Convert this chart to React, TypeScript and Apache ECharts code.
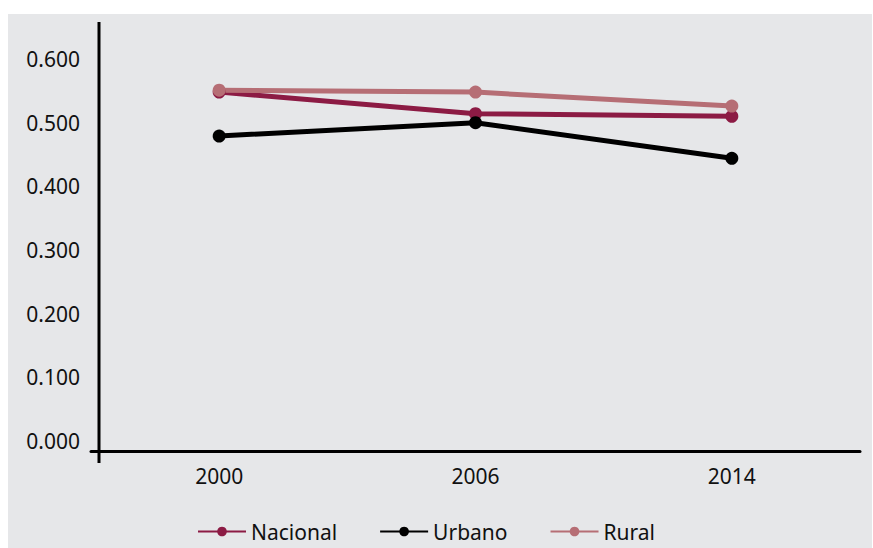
import React, { useEffect, useRef } from "react";
import * as echarts from "echarts";

const years = ["2000", "2006", "2014"];
const nacional = [0.548, 0.514, 0.51];
const urbano = [0.479, 0.5, 0.444];
const rural = [0.551, 0.548, 0.526];

const colNacional = "#8c1b44";
const colUrbano = "#000000";
const colRural = "#b66e75";
const FONT = "'Noto Sans', 'Open Sans', sans-serif";

export default function App() {
  const ref = useRef<HTMLDivElement>(null);
  useEffect(() => {
    if (!ref.current) return;
    const chart = echarts.init(ref.current, null, { renderer: "svg" });
    const mk = (name: string, data: number[], color: string) => ({
      name,
      type: "line",
      data,
      symbol: "circle",
      symbolSize: 13,
      lineStyle: { width: 5, color },
      itemStyle: { color },
      z: 3,
    });
    chart.setOption({
      animation: false,
      backgroundColor: "#ffffff",
      textStyle: { fontFamily: FONT },
      graphic: [
        {
          type: "rect",
          z: -10,
          shape: { x: 8, y: 14, width: 864, height: 540 },
          style: { fill: "#e6e7e9" },
          silent: true,
        },
        {
          type: "line",
          z: 10,
          shape: { x1: 99, y1: 22, x2: 99, y2: 463 },
          style: { stroke: "#000", lineWidth: 3 },
          silent: true,
        },
      ],
      grid: { left: 91, right: 13, top: 59, bottom: 107, containLabel: false },
      legend: {
        bottom: 1,
        left: 192,
        itemWidth: 48,
        itemHeight: 12,
        itemGap: 42,
        textStyle: { fontSize: 21, color: "#111", fontFamily: FONT },
        data: ["Nacional", "Urbano", "Rural"],
      },
      xAxis: {
        type: "category",
        data: years,
        boundaryGap: true,
        offset: 10,
        axisLine: { show: true, onZero: false, lineStyle: { color: "#000", width: 3 } },
        axisTick: { show: false },
        axisLabel: { fontSize: 21, color: "#111", margin: 14, fontFamily: FONT },
        splitLine: { show: false },
      },
      yAxis: {
        type: "value",
        min: 0,
        max: 0.6,
        interval: 0.1,
        axisLine: { show: false },
        axisTick: { show: false },
        splitLine: { show: false },
        axisLabel: {
          fontSize: 21,
          color: "#111",
          margin: 11,
          fontFamily: FONT,
          formatter: (v: number) => v.toFixed(3),
        },
      },
      series: [
        mk("Nacional", nacional, colNacional),
        mk("Urbano", urbano, colUrbano),
        mk("Rural", rural, colRural),
      ],
    });
    return () => chart.dispose();
  }, []);
  return (
    <div
      ref={ref}
      style={{ position: "fixed", left: 0, top: 0, width: 873, height: 548 }}
    />
  );
}
